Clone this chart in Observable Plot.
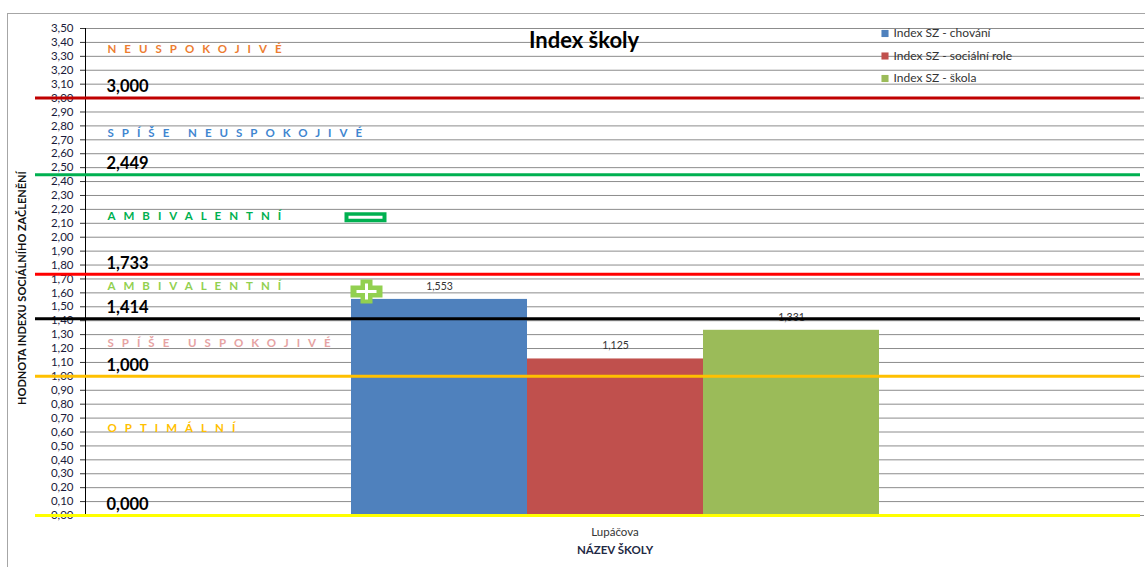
<!DOCTYPE html>
<html>
<head>
<meta charset="utf-8">
<script src="https://cdn.jsdelivr.net/npm/d3@7"></script>
<script src="https://cdn.jsdelivr.net/npm/@observablehq/plot@0.6"></script>
<style>
  body { margin: 0; background: #fff; }
  #wrap { position: relative; width: 1145px; height: 567px; overflow: hidden; }
  #border { position: absolute; left: 7px; top: 13px; width: 1145px; height: 560px;
            border-left: 1px solid #a6a6a6; border-top: 1px solid #a6a6a6; pointer-events: none; }
  #err { font: 14px monospace; color: red; white-space: pre-wrap; }
</style>
</head>
<body>
<div id="wrap"><div id="border"></div><div id="chart"></div></div>
<div id="err"></div>
<script>
const schools = ["Lupáčova"];
const series = ["Index SZ - chování", "Index SZ - sociální role", "Index SZ - škola"];
const values = [1.553, 1.125, 1.331];
const valueLabels = ["1,553", "1,125", "1,331"];
const seriesColors = ["#4f81bd", "#c0504d", "#9bbb59"];

const thresholdValues = [3.0, 2.449, 1.733, 1.414, 1.0, 0.0];
const thresholdLabels = ["3,000", "2,449", "1,733", "1,414", "1,000", "0,000"];
const thresholdColors = ["#c00000", "#00b050", "#ff0000", "#000000", "#ffc000", "#ffff00"];

const zoneNames = ["NEUSPOKOJIVÉ", "SPÍŠE NEUSPOKOJIVÉ", "AMBIVALENTNÍ", "AMBIVALENTNÍ", "SPÍŠE USPOKOJIVÉ", "OPTIMÁLNÍ"];
const zoneLabelY = [3.35, 2.75, 2.15, 1.645, 1.24, 0.625];
const zoneColors = ["#ed7d31", "#3f86d0", "#00b050", "#92d050", "#e6a3a3", "#ffc000"];

const yTicks = [0, 0.1, 0.2, 0.3, 0.4, 0.5, 0.6, 0.7, 0.8, 0.9, 1.0, 1.1, 1.2, 1.3, 1.4, 1.5, 1.6, 1.7,
  1.8, 1.9, 2.0, 2.1, 2.2, 2.3, 2.4, 2.5, 2.6, 2.7, 2.8, 2.9, 3.0, 3.1, 3.2, 3.3, 3.4, 3.5];

const title = "Index školy";
const yLabel = "HODNOTA INDEXU SOCIÁLNÍHO ZAČLENĚNÍ";
const xLabel = "NÁZEV ŠKOLY";

try {
const bars = series.map((s, i) => ({school: schools[0], series: s, value: values[i], label: valueLabels[i], color: seriesColors[i]}));

const minusOuter = {draw(ctx) { ctx.rect(-21, -5, 42, 10); }};
const minusInner = {draw(ctx) { ctx.rect(-17, -1.5, 34, 3); }};
const plusOuter = {draw(ctx) { ctx.rect(-16, -6, 32, 12); ctx.rect(-6, -12, 12, 24); }};
const plusInner = {draw(ctx) { ctx.rect(-10, -1.5, 20, 3); ctx.rect(-1.5, -8, 3, 16); }};

const fmt = d => d.toFixed(2).replace(".", ",");

const legendMarks = series.flatMap((s, i) => [
  Plot.dot([s], {frameAnchor: "top-left", dx: 799.5, dy: 5 + i * 22.5, symbol: "square", r: 4, fill: seriesColors[i]}),
  Plot.text([s], {frameAnchor: "top-left", dx: 808, dy: 5 + i * 22.5, textAnchor: "start", lineAnchor: "middle", fontSize: 12, fill: "#333"})
]);

const chart = Plot.plot({
  width: 1145,
  height: 567,
  marginTop: 28,
  marginBottom: 52,
  marginLeft: 85,
  marginRight: 1,
  style: {fontFamily: "Lato, 'Open Sans', sans-serif", fontSize: "11px", background: "transparent"},
  fx: {domain: schools, padding: 0},
  x: {domain: series, paddingInner: 0, paddingOuter: 1.5, axis: null},
  y: {domain: [0, 3.5]},
  color: {type: "identity"},
  marks: [
    Plot.gridY(yTicks, {stroke: "#8c8c8c", strokeOpacity: 1}),
    Plot.axisY(yTicks, {tickFormat: fmt, tickSize: 5, tickPadding: 7, label: null, fontSize: 11.5, fill: "#1a1a3a", stroke: "#333"}),
    Plot.axisFx({anchor: "bottom", tickSize: 0, tickPadding: 12, label: null, fontSize: 11.5, fill: "#333"}),
    Plot.barY(bars, {fx: "school", x: "series", y: "value", fill: "color"}),
    Plot.text(bars, {fx: "school", x: "series", y: "value", text: "label", dy: -13, fontSize: 10.5, fill: "#333"}),
    Plot.frame({anchor: "left", stroke: "#000"}),
    Plot.ruleY(thresholdValues, {stroke: (d, i) => thresholdColors[i], strokeWidth: 3, insetLeft: -50, insetRight: 4}),
    Plot.text(thresholdLabels, {y: (d, i) => thresholdValues[i], frameAnchor: "left", dx: 21, dy: -11, textAnchor: "start", fontWeight: "bold", fontSize: 16.5, fill: "#000"}),
    Plot.text(zoneNames, {y: (d, i) => zoneLabelY[i], frameAnchor: "left", dx: 22, textAnchor: "start", fontWeight: "bold", fontSize: 11.5, fill: (d, i) => zoneColors[i]}),
    Plot.dot([zoneLabelY[2]], {y: d => d, frameAnchor: "left", dx: 280, dy: 1, symbol: minusOuter, fill: "#00b050"}),
    Plot.dot([zoneLabelY[2]], {y: d => d, frameAnchor: "left", dx: 280, dy: 1, symbol: minusInner, fill: "#fff"}),
    Plot.dot([zoneLabelY[3]], {y: d => d, frameAnchor: "left", dx: 281, dy: 5, symbol: plusOuter, fill: "#92d050"}),
    Plot.dot([zoneLabelY[3]], {y: d => d, frameAnchor: "left", dx: 281, dy: 5, symbol: plusInner, fill: "#fff"}),
    Plot.text([title], {frameAnchor: "top", dx: -31, dy: 12, lineAnchor: "middle", fontWeight: "bold", fontSize: 22, fill: "#000"}),
    Plot.text([yLabel], {frameAnchor: "left", dx: -63, dy: 16, rotate: -90, textAnchor: "middle", lineAnchor: "middle", fontWeight: "bold", fontSize: 11, fill: "#111"}),
    Plot.text([xLabel], {frameAnchor: "bottom", dy: 35, lineAnchor: "middle", fontWeight: "bold", fontSize: 11.5, fill: "#1f2a44"}),
    ...legendMarks
  ]
});
d3.select(chart).selectAll("text")
  .filter(function() { return zoneNames.includes(this.textContent); })
  .style("letter-spacing", "8px");
document.getElementById("chart").appendChild(chart);
} catch (e) {
  document.getElementById("wrap").style.display = "none";
  document.getElementById("err").textContent = String(e && e.stack || e);
}
</script>
</body>
</html>
